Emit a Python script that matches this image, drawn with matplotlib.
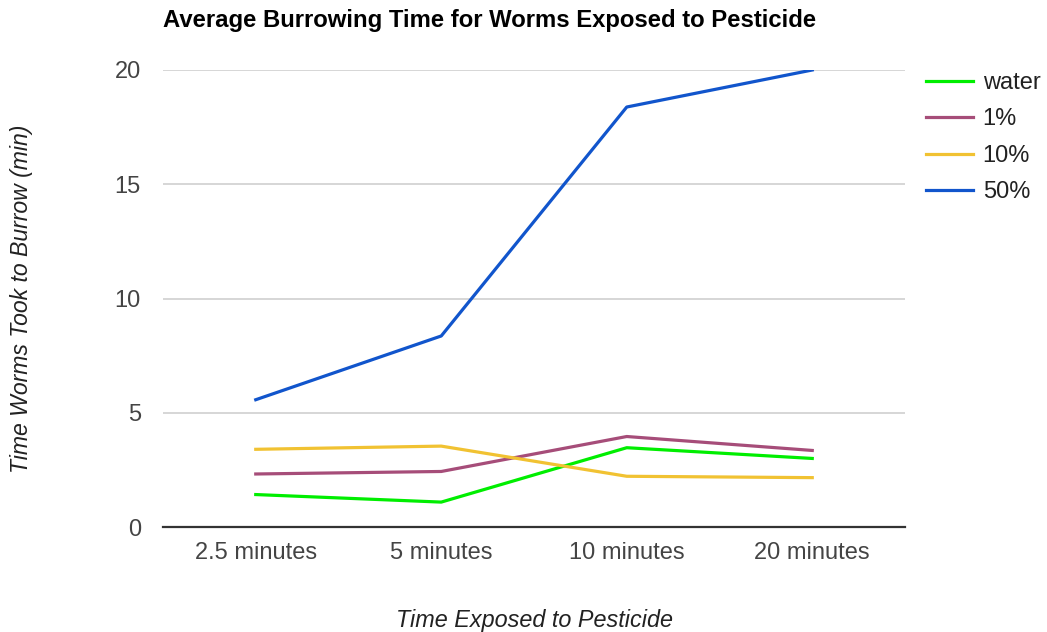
import matplotlib
matplotlib.use("Agg")
import matplotlib.pyplot as plt

plt.rcParams['font.family'] = ['Liberation Sans', 'DejaVu Sans']

categories = ["2.5 minutes", "5 minutes", "10 minutes", "20 minutes"]
series_names = ["water", "1%", "10%", "50%"]
water = [1.42, 1.09, 3.47, 3.00]
pct1 = [2.32, 2.43, 3.96, 3.35]
pct10 = [3.40, 3.54, 2.22, 2.16]
pct50 = [5.57, 8.36, 18.38, 20.0]
colors = ["#00ee00", "#a64d79", "#f1c232", "#1155cc"]
yticks = [0, 5, 10, 15, 20]

fig = plt.figure(figsize=(10.47, 6.32), dpi=100)
ax = fig.add_axes([163 / 1047, 1 - 527 / 632, 742 / 1047, 457 / 632])

xs = range(len(categories))
for vals, name, col in zip([water, pct1, pct10, pct50], series_names, colors):
    ax.plot(xs, vals, color=col, linewidth=2.3, label=name, solid_joinstyle='round')

ax.set_xlim(-0.5, len(categories) - 0.5)
ax.set_ylim(0, 20)
ax.set_yticks(yticks)
ax.set_xticks(list(xs))
ax.set_xticklabels(categories)
ax.tick_params(length=0, labelsize=17, colors="#444444", pad=11)
ax.tick_params(axis='y', pad=16)
ax.grid(axis='y', color="#cccccc", linewidth=1.1)
ax.set_axisbelow(True)
for s in ['top', 'right', 'left']:
    ax.spines[s].set_visible(False)
ax.spines['bottom'].set_color("#333333")
ax.spines['bottom'].set_linewidth(1.6)

ax.set_xlabel("Time Exposed to Pesticide", fontsize=16.8, style='italic',
              color="#222222", labelpad=32)
ax.set_ylabel("Time Worms Took to Burrow (min)", fontsize=16.6, style='italic',
              color="#222222", labelpad=59)

fig.text(163 / 1047, 1 - 20 / 632, "Average Burrowing Time for Worms Exposed to Pesticide",
         fontsize=17.2, fontweight='bold', ha='left', va='center', color="#000000")

fig.legend(loc='upper left', bbox_to_anchor=(926 / 1047, 1 - 72 / 632), frameon=False,
           fontsize=17, handlelength=2.0, handletextpad=0.4, labelspacing=0.61,
           borderpad=0, borderaxespad=0, labelcolor="#222222")

fig.savefig("out.png", dpi=100)
plt.close(fig)
